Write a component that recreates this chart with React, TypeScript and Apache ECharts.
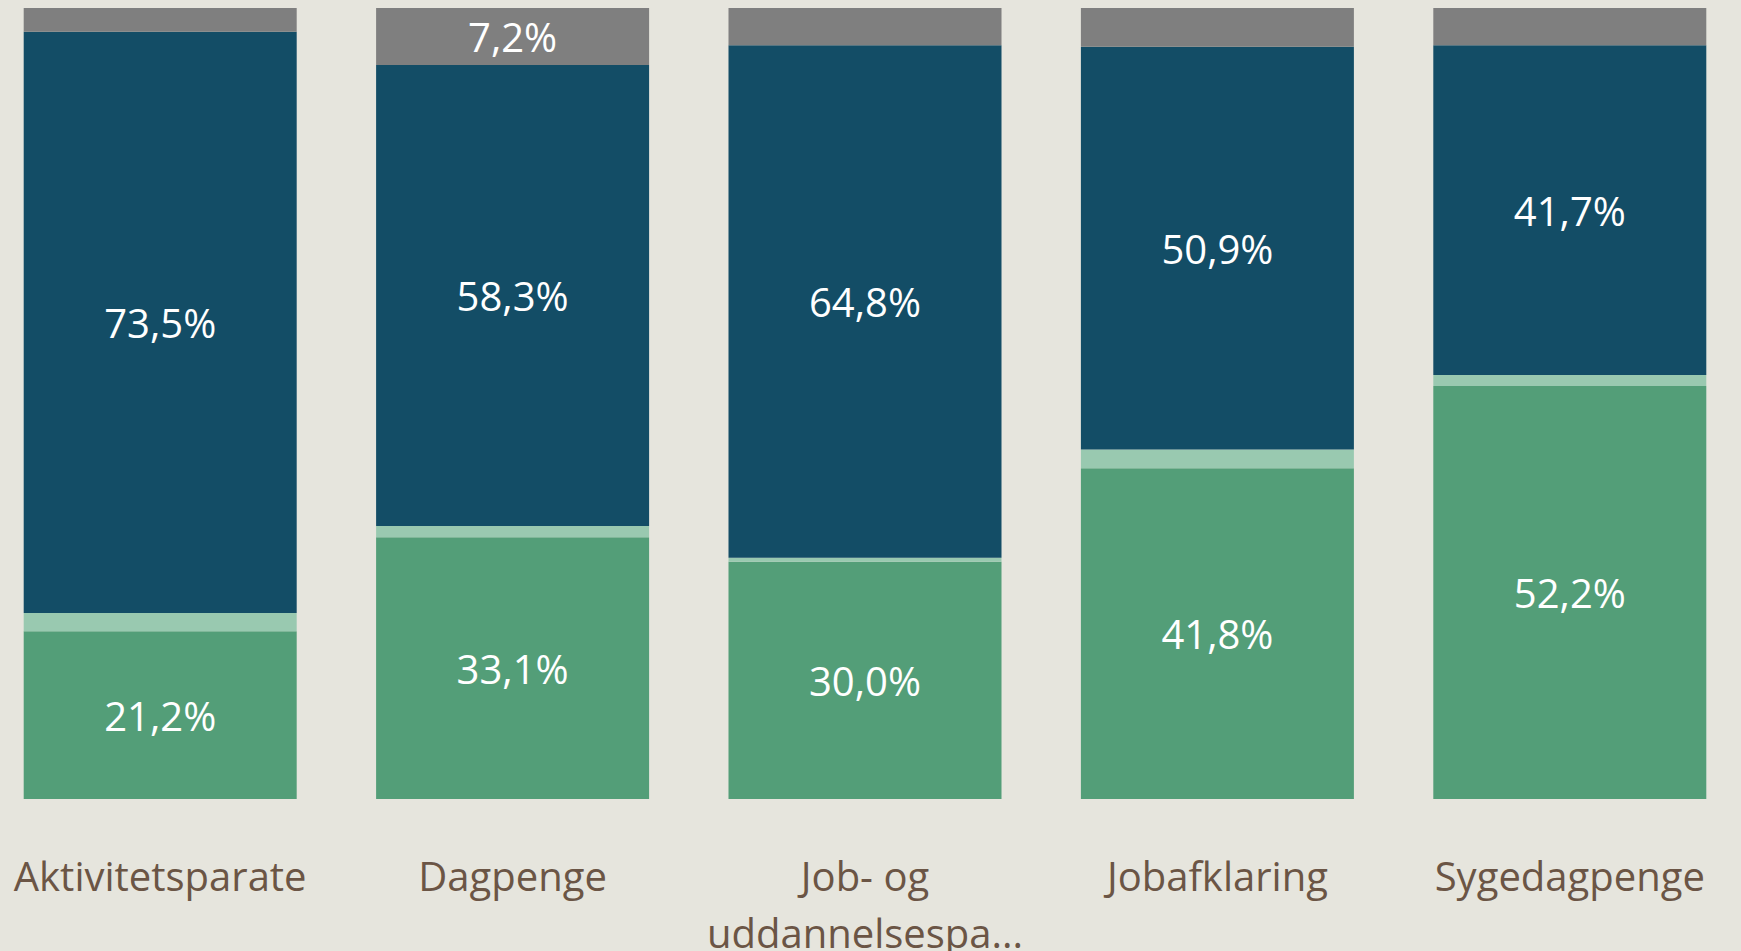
import React, { useEffect, useRef } from "react";
import * as echarts from "echarts";

const categories = ["Aktivitetsparate", "Dagpenge", "Job- og\nuddannelsespa...", "Jobafklaring", "Sygedagpenge"];
const greenValues = [21.2, 33.1, 30.0, 41.8, 52.2];
const lightGreenValues = [2.3, 1.4, 0.5, 2.4, 1.4];
const blueValues = [73.5, 58.3, 64.8, 50.9, 41.7];
const grayValues = [3.0, 7.2, 4.7, 4.9, 4.7];

const FONT = "'Segoe UI', 'Open Sans', 'Noto Sans', sans-serif";

export default function App() {
  const ref = useRef<HTMLDivElement>(null);
  useEffect(() => {
    if (!ref.current) return;
    const chart = echarts.init(ref.current, undefined, { renderer: "svg" });
    const label = {
      show: true,
      position: "inside",
      color: "#ffffff",
      fontSize: 40,
      fontFamily: FONT,
      formatter: (p: any) => (p.value >= 5 ? p.value.toFixed(1).replace(".", ",") + "%" : ""),
    };
    const mk = (name: string, data: number[], color: string, showLabel: boolean) => ({
      name,
      type: "bar",
      stack: "total",
      data,
      barWidth: 273,
      itemStyle: { color },
      label: showLabel ? label : { show: false },
      emphasis: { disabled: true },
    });
    chart.setOption({
      animation: false,
      backgroundColor: "#e6e5dd",
      grid: { left: 0, right: 0, top: 8, bottom: 152, containLabel: false, outerBoundsMode: "none" },
      xAxis: {
        type: "category",
        data: categories,
        axisLine: { show: false },
        axisTick: { show: false },
        axisLabel: {
          color: "#6b5545",
          fontSize: 40,
          lineHeight: 57,
          fontFamily: FONT,
          margin: 48,
          interval: 0,
        },
      },
      yAxis: { type: "value", min: 0, max: 100, show: false, splitLine: { show: false } },
      series: [
        mk("green", greenValues, "#539e78", true),
        mk("lightgreen", lightGreenValues, "#99c9b0", false),
        mk("blue", blueValues, "#134d66", true),
        mk("gray", grayValues, "#7f7f7f", true),
      ],
    });
    return () => chart.dispose();
  }, []);
  return (
    <div
      style={{
        position: "absolute",
        left: 0,
        top: 0,
        width: 1741,
        height: 951,
        overflow: "hidden",
        background: "#e6e5dd",
      }}
    >
      <div
        ref={ref}
        style={{ position: "absolute", left: -16, top: 0, width: 1762, height: 951 }}
      />
    </div>
  );
}
